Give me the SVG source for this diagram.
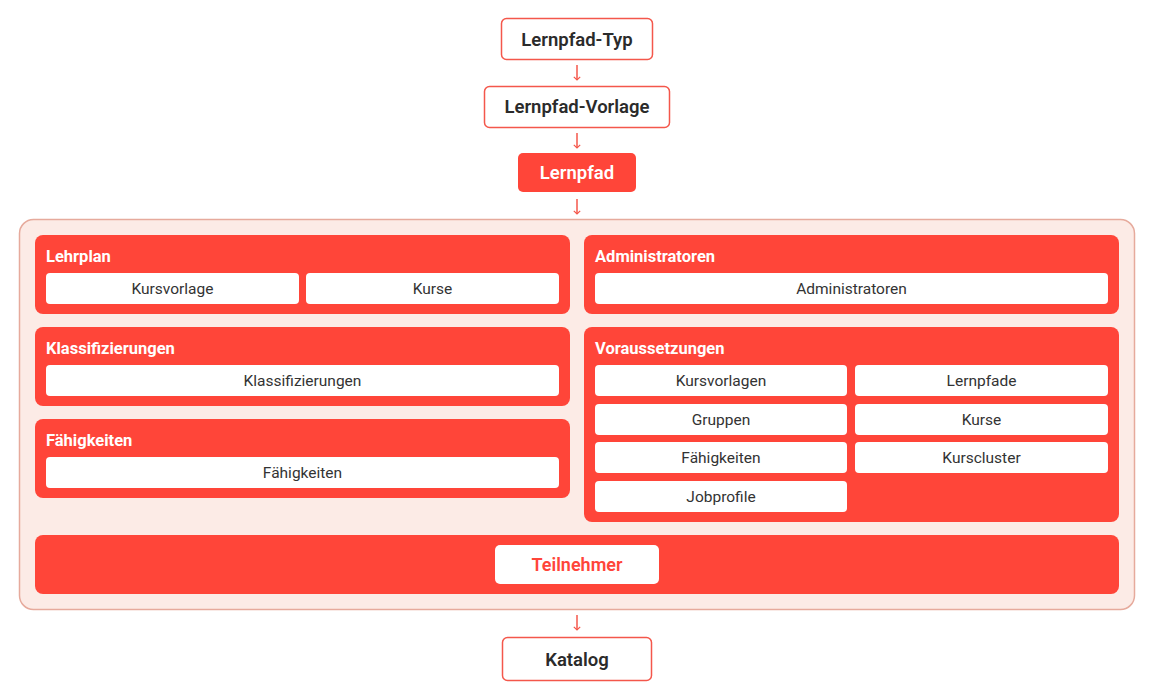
<svg xmlns="http://www.w3.org/2000/svg" width="1150" height="688" viewBox="0 0 1150 688">
<defs>
<style>
.top{fill:#fff;stroke:#f4574b;stroke-width:1.5}
.topf{fill:#ff4539}
.tt{font-family:Roboto,"Liberation Sans",sans-serif;font-size:18.5px;font-weight:600;fill:#2b2b2b;text-anchor:middle}
.tw{fill:#fff}
.panel{fill:#ff4539}
.ptitle{font-family:Roboto,"Liberation Sans",sans-serif;font-size:16.5px;font-weight:bold;fill:#fff}
.item{fill:#fff}
.it{font-family:Roboto,"Liberation Sans",sans-serif;font-size:15.5px;fill:#333;text-anchor:middle}
.conn{stroke:#f4574b;stroke-width:1.5;fill:none}
</style>
<marker id="ah" viewBox="0 0 10 10" refX="9" refY="5" markerWidth="8" markerHeight="8" orient="auto" markerUnits="userSpaceOnUse">
<path d="M5,1 L9,5 L5,9" fill="none" stroke="#f4574b" stroke-width="1.5"/>
</marker>
</defs>
<rect width="1150" height="688" fill="#fff"/>

<g id="connectors">
<line class="conn" x1="577" y1="65" x2="577" y2="80" marker-end="url(#ah)"/>
<line class="conn" x1="577" y1="133" x2="577" y2="148" marker-end="url(#ah)"/>
<line class="conn" x1="577" y1="199" x2="577" y2="214" marker-end="url(#ah)"/>
<line class="conn" x1="577" y1="615" x2="577" y2="630" marker-end="url(#ah)"/>
</g>

<g id="lernpfad-typ">
<rect class="top" x="501.5" y="18.5" width="151" height="41" rx="5"/>
<text class="tt" x="577" y="46">Lernpfad-Typ</text>
</g>
<g id="lernpfad-vorlage">
<rect class="top" x="484.5" y="86.5" width="185" height="41" rx="5"/>
<text class="tt" x="577" y="113">Lernpfad-Vorlage</text>
</g>
<g id="lernpfad">
<rect class="topf" x="518" y="153" width="118" height="39" rx="5"/>
<text class="tt tw" x="577" y="179">Lernpfad</text>
</g>

<g id="container">
<rect x="19.5" y="219.5" width="1115" height="390" rx="14" fill="#fcebe6" stroke="#e6aa9c" stroke-width="1.5"/>
</g>

<g id="lehrplan">
<rect class="panel" x="35" y="235" width="535" height="79" rx="8"/>
<text class="ptitle" x="46" y="262">Lehrplan</text>
<rect class="item" x="46" y="273" width="253" height="31" rx="4"/>
<text class="it" x="172.5" y="294">Kursvorlage</text>
<rect class="item" x="306" y="273" width="253" height="31" rx="4"/>
<text class="it" x="432.5" y="294">Kurse</text>
</g>

<g id="administratoren">
<rect class="panel" x="584" y="235" width="535" height="79" rx="8"/>
<text class="ptitle" x="595" y="262">Administratoren</text>
<rect class="item" x="595" y="273" width="513" height="31" rx="4"/>
<text class="it" x="851.5" y="294">Administratoren</text>
</g>

<g id="klassifizierungen">
<rect class="panel" x="35" y="327" width="535" height="79" rx="8"/>
<text class="ptitle" x="46" y="354">Klassifizierungen</text>
<rect class="item" x="46" y="365" width="513" height="31" rx="4"/>
<text class="it" x="302.5" y="386">Klassifizierungen</text>
</g>

<g id="faehigkeiten">
<rect class="panel" x="35" y="419" width="535" height="79" rx="8"/>
<text class="ptitle" x="46" y="446">Fähigkeiten</text>
<rect class="item" x="46" y="457" width="513" height="31" rx="4"/>
<text class="it" x="302.5" y="478">Fähigkeiten</text>
</g>

<g id="voraussetzungen">
<rect class="panel" x="584" y="327" width="535" height="195" rx="8"/>
<text class="ptitle" x="595" y="354">Voraussetzungen</text>
<rect class="item" x="595" y="365" width="252" height="31" rx="4"/>
<text class="it" x="721" y="386">Kursvorlagen</text>
<rect class="item" x="855" y="365" width="253" height="31" rx="4"/>
<text class="it" x="981.5" y="386">Lernpfade</text>
<rect class="item" x="595" y="404" width="252" height="31" rx="4"/>
<text class="it" x="721" y="425">Gruppen</text>
<rect class="item" x="855" y="404" width="253" height="31" rx="4"/>
<text class="it" x="981.5" y="425">Kurse</text>
<rect class="item" x="595" y="442" width="252" height="31" rx="4"/>
<text class="it" x="721" y="463">Fähigkeiten</text>
<rect class="item" x="855" y="442" width="253" height="31" rx="4"/>
<text class="it" x="981.5" y="463">Kurscluster</text>
<rect class="item" x="595" y="481" width="252" height="31" rx="4"/>
<text class="it" x="721" y="502">Jobprofile</text>
</g>

<g id="teilnehmer">
<rect class="panel" x="35" y="535" width="1084" height="59" rx="8"/>
<rect class="item" x="495" y="545" width="164" height="39" rx="5"/>
<text class="tt" x="577" y="571" style="fill:#ff4539;font-size:18px">Teilnehmer</text>
</g>

<g id="katalog">
<rect class="top" x="502.5" y="637.5" width="149" height="43" rx="5"/>
<text class="tt" x="577" y="666">Katalog</text>
</g>
</svg>
